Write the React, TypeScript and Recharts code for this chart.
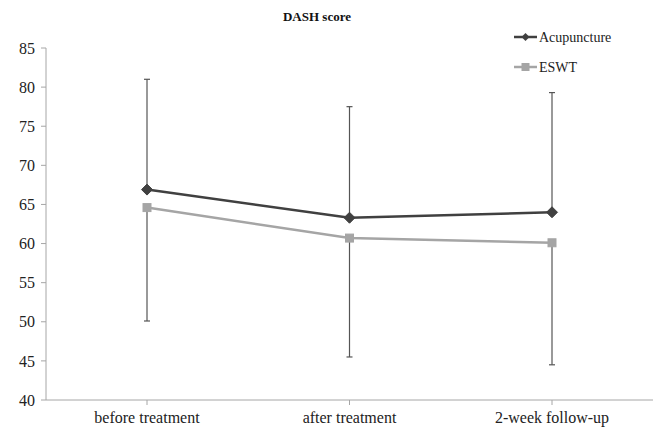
import React from 'react';
import { ComposedChart, Line, XAxis, YAxis, ErrorBar } from 'recharts';

const categories = ['before treatment', 'after treatment', '2-week follow-up'];
const acupuncture = [66.9, 63.3, 64.0];
const acupunctureUpperSD = [14.1, 14.2, 15.3];
const eswt = [64.6, 60.7, 60.1];
const eswtLowerSD = [14.5, 15.2, 15.6];
const yTicks = [40, 45, 50, 55, 60, 65, 70, 75, 80, 85];

const data = categories.map((c, i) => ({
  name: c,
  acu: acupuncture[i],
  acuErr: [0, acupunctureUpperSD[i]],
  eswt: eswt[i],
  eswtErr: [eswtLowerSD[i], 0],
}));

const ACU = '#404040';
const ESWT = '#a5a5a5';
const FONT = '"Liberation Serif", "Times New Roman", serif';

const Diamond = (props: any) => {
  const { cx, cy, index } = props;
  if (cx == null || cy == null) return null;
  const r = 5.5;
  return <path key={`d${index}`} d={`M${cx},${cy - r}L${cx + r},${cy}L${cx},${cy + r}L${cx - r},${cy}Z`} fill={ACU} stroke={ACU} strokeWidth={1} />;
};

const Square = (props: any) => {
  const { cx, cy, index } = props;
  if (cx == null || cy == null) return null;
  const s = 8;
  return <rect key={`s${index}`} x={cx - s / 2} y={cy - s / 2} width={s} height={s} fill={ESWT} stroke={ESWT} />;
};

const LegendBox = () => (
  <svg width={140} height={50} style={{ position: 'absolute', left: 514, top: 30, overflow: 'visible' }}>
    <line x1={0} y1={7} x2={23} y2={7} stroke={ACU} strokeWidth={2.5} />
    <path d="M11.5,3L15.5,7L11.5,11L7.5,7Z" fill={ACU} />
    <text x={25} y={12} style={{ fontFamily: FONT, fontSize: 14 }} fill="#222">Acupuncture</text>
    <line x1={0} y1={37} x2={23} y2={37} stroke={ESWT} strokeWidth={2.5} />
    <rect x={7.5} y={33} width={8} height={8} fill={ESWT} />
    <text x={25} y={42} style={{ fontFamily: FONT, fontSize: 14 }} fill="#222">ESWT</text>
  </svg>
);

export default function App() {
  return (
    <div style={{ position: 'absolute', left: 0, top: 0, width: 660, height: 429, background: '#fff' }}>
      <ComposedChart width={660} height={429} data={data} margin={{ top: 48, right: 7, bottom: 0, left: 0 }}>
        <XAxis
          dataKey="name"
          height={29}
          stroke="#a6a6a6"
          tickSize={5}
          tickMargin={7}
          padding={{ left: 101, right: 101 }}
          interval={0}
          tick={{ fill: '#222', fontSize: 16, style: { fontFamily: FONT } }}
        />
        <YAxis
          width={46}
          domain={[40, 85]}
          ticks={yTicks}
          stroke="#a6a6a6"
          tickSize={5}
          tickMargin={6}
          interval={0}
          tick={{ fill: '#222', fontSize: 16, style: { fontFamily: FONT } }}
        />
        <Line
          dataKey="acu"
          name="Acupuncture"
          stroke={ACU}
          strokeWidth={2.5}
          dot={<Diamond />}
          activeDot={false}
          isAnimationActive={false}
        >
          <ErrorBar dataKey="acuErr" width={3} stroke="#555" strokeWidth={1.2} direction="y" />
        </Line>
        <Line
          dataKey="eswt"
          name="ESWT"
          stroke={ESWT}
          strokeWidth={2.5}
          dot={<Square />}
          activeDot={false}
          isAnimationActive={false}
        >
          <ErrorBar dataKey="eswtErr" width={3} stroke="#555" strokeWidth={1.2} direction="y" />
        </Line>
      </ComposedChart>
      <div style={{ position: 'absolute', left: 0, top: 9, width: 634, textAlign: 'center', fontFamily: FONT, fontWeight: 'bold', fontSize: 13, color: '#111' }}>
        DASH score
      </div>
      <LegendBox />
    </div>
  );
}
